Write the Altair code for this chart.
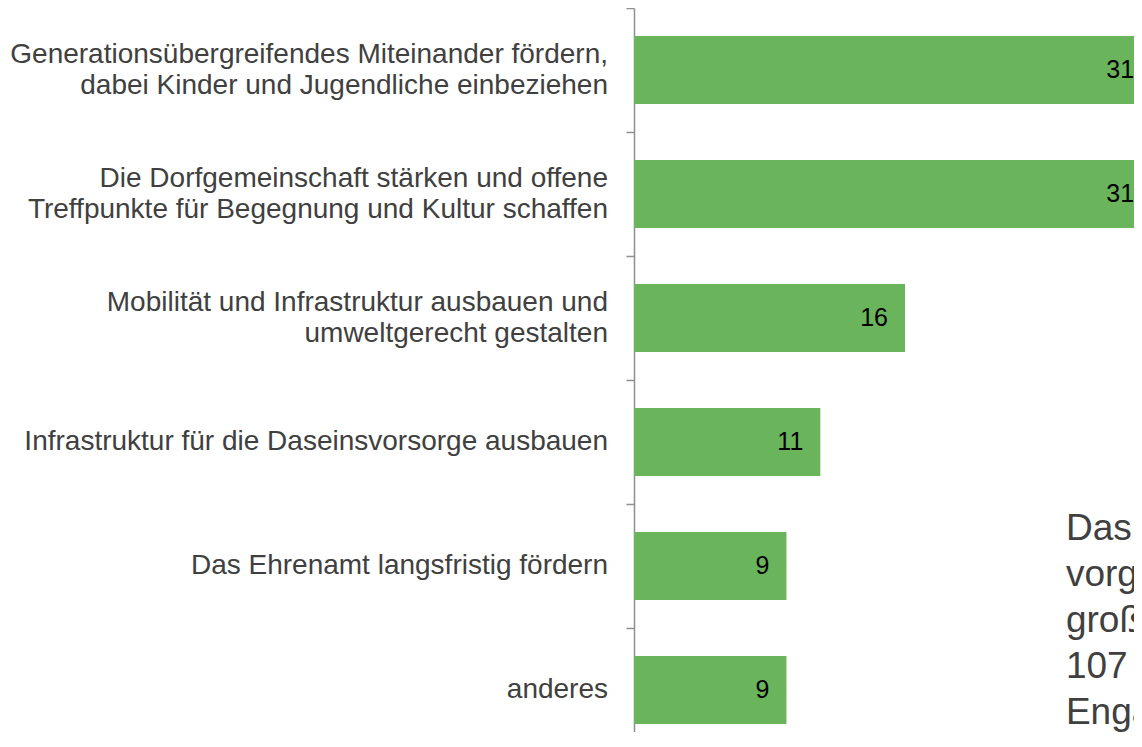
import altair as alt
import pandas as pd

categories = [
    "Generationsübergreifendes Miteinander fördern,\ndabei Kinder und Jugendliche einbeziehen",
    "Die Dorfgemeinschaft stärken und offene\nTreffpunkte für Begegnung und Kultur schaffen",
    "Mobilität und Infrastruktur ausbauen und\numweltgerecht gestalten",
    "Infrastruktur für die Daseinsvorsorge ausbauen",
    "Das Ehrenamt langsfristig fördern",
    "anderes",
]
values = [31, 31, 16, 11, 9, 9]

annotation_lines = [
    "Das Ergebnis der Befragung",
    "vorgeschlagenen Themen zeigt",
    "großes Interesse: es gab",
    "107 Vorschläge für mehr",
    "Engagement im Dorf.",
]
annotation_x = [25.5]
annotation_row = ["Das Ehrenamt langsfristig fördern"]

df = pd.DataFrame({"cat": categories, "value": values})
ann = pd.DataFrame({"x": annotation_x, "cat": annotation_row})

FONT = "Liberation Sans"

y_scale = alt.Scale(paddingInner=0, paddingOuter=0)
x_scale = alt.Scale(domain=[0, 32], nice=False, zero=True)

y_axis = alt.Axis(
    title=None,
    labels=False,
    tickBand="extent",
    tickSize=8,
    tickColor="#8f8f8f",
    tickWidth=1.5,
    domainColor="#8f8f8f",
    domainWidth=1.5,
    grid=False,
)

bars = alt.Chart(df).mark_bar(color="#6ab45c", size=68).encode(
    x=alt.X("value:Q", scale=x_scale, axis=None),
    y=alt.Y("cat:N", sort=categories, scale=y_scale, axis=y_axis),
)

def value_labels(test, shift):
    return (
        alt.Chart(df)
        .transform_filter(test)
        .mark_text(
            align="right", baseline="middle", dx=shift, font=FONT, fontSize=25, color="#000000"
        )
        .encode(
            x=alt.X("value:Q", scale=x_scale, axis=None),
            y=alt.Y("cat:N", sort=categories, scale=y_scale),
            text=alt.Text("value:Q"),
        )
    )

values_short = value_labels("datum.value < 30", -17)
values_long = value_labels("datum.value >= 30", -25)

def cat_labels(test, shift):
    return (
        alt.Chart(df)
        .transform_filter(test)
        .transform_calculate(lines="split(datum.cat, '\\n')")
        .mark_text(
            align="right",
            baseline="middle",
            dx=-26,
            dy=shift,
            font=FONT,
            fontSize=28,
            lineHeight=31,
            color="#404040",
        )
        .encode(
            x=alt.value(0),
            y=alt.Y("cat:N", sort=categories, scale=y_scale),
            text="lines:N",
        )
    )

labels_two = cat_labels("indexof(datum.cat, '\\n') >= 0", -15.5)
labels_one = cat_labels("indexof(datum.cat, '\\n') < 0", 0)

note = alt.Chart(ann).mark_text(
    text=annotation_lines,
    align="left",
    baseline="alphabetic",
    dy=-26.5,
    font=FONT,
    fontSize=37,
    lineHeight=46,
    color="#404040",
).encode(
    x=alt.X("x:Q", scale=x_scale, axis=None),
    y=alt.Y("cat:N", sort=categories, scale=y_scale),
)

chart = (
    alt.layer(bars, values_short, values_long, labels_two, labels_one, note)
    .properties(
        width=542,
        height=744,
        autosize=alt.AutoSizeParams(type="none"),
        padding={"left": 626, "top": 0, "right": -42, "bottom": -20},
    )
    .configure_view(stroke=None)
)

chart.save("out.html", embed_options={"renderer": "svg", "actions": False})
